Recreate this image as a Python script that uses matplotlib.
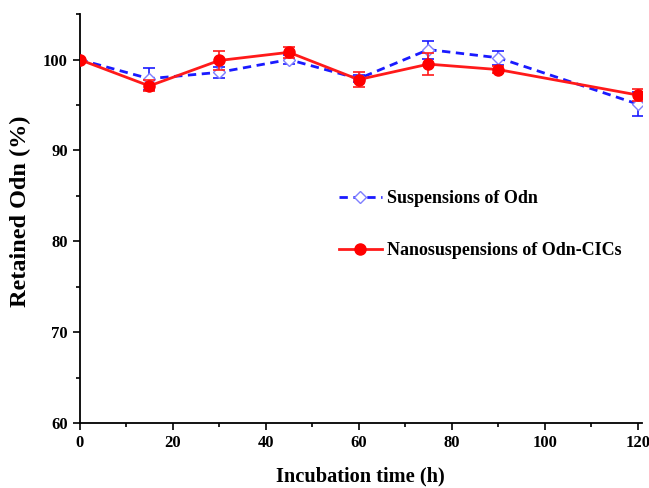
import numpy as np
import matplotlib.pyplot as plt
from matplotlib.ticker import MultipleLocator

# data
time_h = [0, 15, 30, 45, 60, 75, 90, 120]
susp = [100.0, 97.9, 98.6, 100.0, 97.9, 101.1, 100.2, 95.1]
susp_err = [0.0, 1.2, 0.6, 0.5, 0.4, 1.0, 0.8, 1.3]
nano = [100.0, 97.1, 99.9, 100.8, 97.8, 99.5, 98.9, 96.1]
nano_err = [0.0, 0.6, 1.0, 0.6, 0.8, 1.2, 0.4, 0.7]

plt.rcParams['font.family'] = ['Liberation Serif', 'DejaVu Serif']
plt.rcParams['font.weight'] = 'bold'

fig = plt.figure(figsize=(6.49, 4.88), dpi=100)
ax = fig.add_axes([0.1225, 0.133, 0.866, 0.838])

blue = '#1a1aff'
red = '#ff1a1a'

# error bars
ax.errorbar(time_h, susp, yerr=susp_err, fmt='none', ecolor=blue,
            capsize=4, elinewidth=1.2, capthick=1.2, zorder=2)
ax.errorbar(time_h, nano, yerr=nano_err, fmt='none', ecolor=red,
            capsize=4, elinewidth=1.2, capthick=1.2, zorder=3)
# lines + markers
ax.plot(time_h, susp, color=blue, ls=(0, (3, 2)), lw=2,
        marker='D', ms=6.5, mfc='white', mec='#7f7fff', mew=1,
        label='Suspensions of Odn', zorder=2)
ax.plot(time_h, nano, color=red, ls='-', lw=2,
        marker='o', ms=8, mfc='#ff0000', mec='#ff0000',
        label='Nanosuspensions of Odn-CICs', zorder=3)

ax.set_xlim(0, 120.8)
ax.set_ylim(60, 105)
ax.xaxis.set_major_locator(MultipleLocator(20))
ax.xaxis.set_minor_locator(MultipleLocator(10))
ax.yaxis.set_major_locator(MultipleLocator(10))
ax.yaxis.set_minor_locator(MultipleLocator(5))
ax.tick_params(which='major', direction='out', length=5, width=1.2, labelsize=12)
ax.tick_params(which='minor', direction='out', length=3, width=1.2)
ax.spines['top'].set_visible(False)
ax.spines['right'].set_visible(False)
ax.spines['left'].set_linewidth(1.3)
ax.spines['bottom'].set_linewidth(1.3)

ax.set_xlabel('Incubation time (h)', fontsize=14.7, fontweight='bold', labelpad=11)
ax.set_ylabel('Retained Odn (%)', fontsize=17.5, fontweight='bold')
ax.yaxis.set_label_coords(-0.086, 0.518)

leg = ax.legend(loc='upper left', bbox_to_anchor=(0.461, 0.57), frameon=False,
                borderpad=0, borderaxespad=0, fontsize=13, handlelength=2.4,
                handletextpad=0.3, labelspacing=1.95)

fig.savefig('out.png', dpi=100)
